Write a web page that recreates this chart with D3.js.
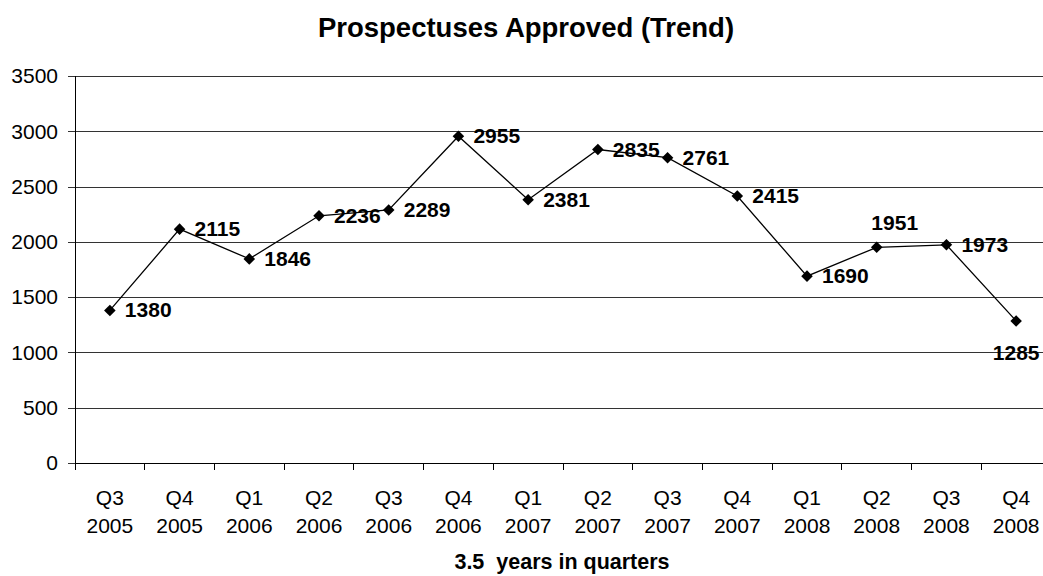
<!DOCTYPE html>
<html>
  <head>
    <meta charset='utf-8'>
    <style>
      body { margin: 0; background: #fff; overflow: hidden; }
      svg { display: block; font-family: Arial, "Liberation Sans", sans-serif; }
    </style>
  </head>
<body>
<div id="chart"></div>
<script src="https://d3js.org/d3.v7.min.js"></script>
<script type="text/javascript">

  // ----------------------------- data --------------------------------
  var quarters = ["Q3", "Q4", "Q1", "Q2", "Q3", "Q4", "Q1", "Q2", "Q3", "Q4", "Q1", "Q2", "Q3", "Q4"];
  var years    = ["2005", "2005", "2006", "2006", "2006", "2006", "2007", "2007", "2007", "2007", "2008", "2008", "2008", "2008"];
  var approved = [1380, 2115, 1846, 2236, 2289, 2955, 2381, 2835, 2761, 2415, 1690, 1951, 1973, 1285];
  // where each value label sits relative to its point
  var labelPos = ["r", "r", "r", "r", "r", "r", "r", "r", "r", "r", "r", "t", "r", "b"];
  var yTicks   = [0, 500, 1000, 1500, 2000, 2500, 3000, 3500];

  var cats = approved.map(function(d, i){ return i; });

  // --------------------------- layout --------------------------------
  var W = 1043, H = 576;
  var margin = {top: 76, left: 75, bottom: 113};
  var plotW = 976;   // the plot runs past the right edge of the picture
  var plotH = H - margin.top - margin.bottom;

  var x = d3.scaleBand().domain(cats).range([0, plotW]).padding(0);
  var y = d3.scaleLinear().domain([0, 3500]).range([plotH, 0]);

  var svg = d3.select("#chart").append("svg")
    .attr("width", W)
    .attr("height", H);

  svg.append("text")
    .attr("x", 526).attr("y", 37)
    .attr("text-anchor", "middle")
    .style("font-size", "27.5px").style("font-weight", "bold")
    .text("Prospectuses Approved (Trend)");

  var g = svg.append("g")
    .attr("transform", "translate(" + [margin.left, margin.top] + ")");

  // gridlines + y axis
  var yAxis = d3.axisLeft(y).tickValues(yTicks).tickFormat(d3.format("d")).tickSize(-plotW).tickSizeOuter(0);
  var yg = g.append("g").attr("class", "y-axis").call(yAxis);
  yg.select(".domain").remove();
  yg.selectAll(".tick line").attr("stroke", "#333").attr("x1", -7).attr("shape-rendering", "crispEdges");
  yg.selectAll(".tick text").attr("fill", "#000").style("font-size", "21px").attr("x", -17);

  // y axis line
  g.append("line")
    .attr("x1", 0).attr("x2", 0).attr("y1", 0).attr("y2", plotH)
    .attr("stroke", "#000").attr("shape-rendering", "crispEdges");

  // x axis line + tick marks between categories
  g.append("line")
    .attr("x1", 0).attr("x2", plotW).attr("y1", plotH).attr("y2", plotH)
    .attr("stroke", "#000").attr("shape-rendering", "crispEdges");
  g.selectAll(".xtick")
    .data(cats)
    .enter().append("line")
    .attr("class", "xtick")
    .attr("x1", function(d){ return x(d); })
    .attr("x2", function(d){ return x(d); })
    .attr("y1", plotH).attr("y2", plotH + 7)
    .attr("stroke", "#000").attr("shape-rendering", "crispEdges");

  var xl = g.selectAll(".xlab")
    .data(cats)
    .enter().append("text")
    .attr("class", "xlab")
    .attr("text-anchor", "middle")
    .style("font-size", "21px")
    .attr("transform", function(d){ return "translate(" + (x(d) + x.bandwidth() / 2) + "," + (plotH + 42) + ")"; });
  xl.append("tspan").attr("x", 0).attr("dy", 0).text(function(d){ return quarters[d]; });
  xl.append("tspan").attr("x", 0).attr("dy", 28).text(function(d){ return years[d]; });

  // axis title, centred on the (partly cut off) plot
  svg.append("text")
    .attr("x", margin.left + plotW / 2 - 1).attr("y", 569)
    .attr("text-anchor", "middle")
    .style("font-size", "21.5px").style("font-weight", "bold")
    .style("white-space", "pre")
    .text("3.5  years in quarters");

  // line
  var line = d3.line()
    .x(function(d, i){ return x(i) + x.bandwidth() / 2; })
    .y(function(d){ return y(d); });

  g.append("path")
    .datum(approved)
    .attr("fill", "none")
    .attr("stroke", "#000")
    .attr("stroke-width", 1.3)
    .attr("d", line);

  g.selectAll(".marker")
    .data(approved)
    .enter().append("path")
    .attr("class", "marker")
    .attr("d", d3.symbol().type(d3.symbolDiamond2).size(85))
    .attr("transform", function(d, i){ return "translate(" + (x(i) + x.bandwidth() / 2) + "," + y(d) + ")"; })
    .attr("fill", "#000");

  g.selectAll(".val")
    .data(approved)
    .enter().append("text")
    .attr("class", "val")
    .style("font-size", "21px").style("font-weight", "bold")
    .attr("text-anchor", function(d, i){ return labelPos[i] == "r" ? "start" : "middle"; })
    .attr("x", function(d, i){
      var cx = x(i) + x.bandwidth() / 2;
      if (labelPos[i] == "r") return cx + 15;
      if (labelPos[i] == "t") return cx + 18;
      return cx;
    })
    .attr("y", function(d, i){
      var cy = y(d);
      if (labelPos[i] == "t") return cy - 17;
      if (labelPos[i] == "b") return cy + 39;
      return cy + 7;
    })
    .text(function(d){ return d; });

</script>
</body>
</html>
